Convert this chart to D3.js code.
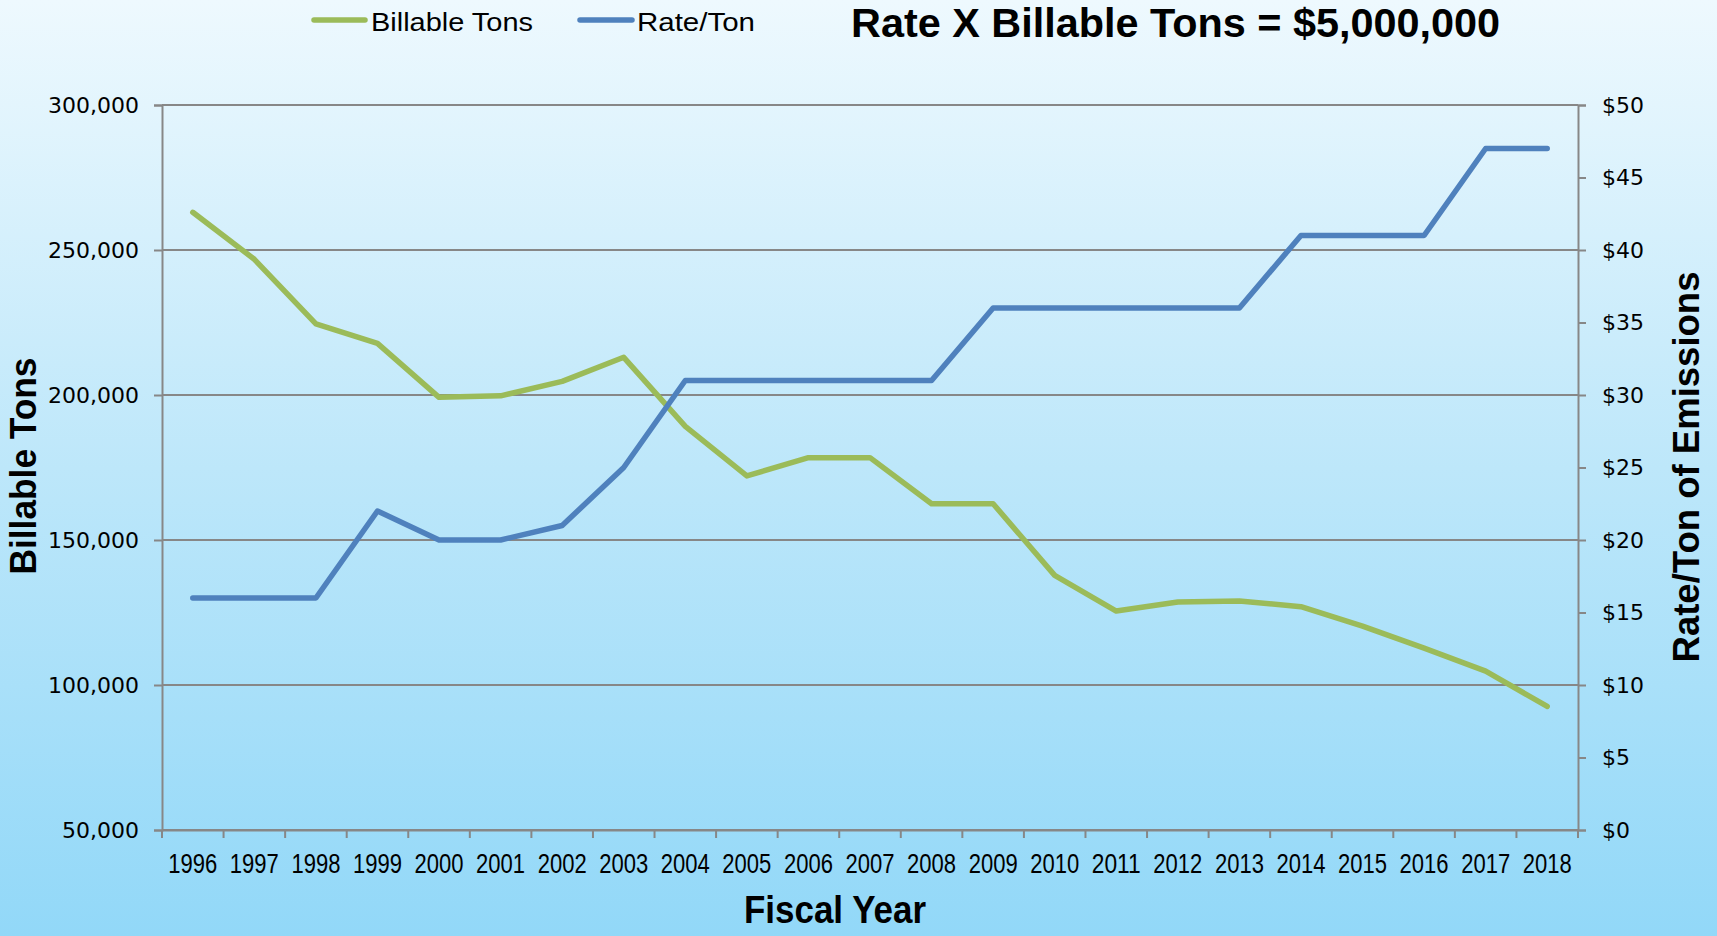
<!DOCTYPE html>
<html><head><meta charset="utf-8">
<script src="https://cdn.jsdelivr.net/npm/d3@7"></script>
<style>html,body{margin:0;padding:0;overflow:hidden;background:#fff;} svg{display:block;}</style>
</head><body>
<svg id="chart" width="1717" height="936"></svg>
<script>
// ---- data ----
const years = ["1996","1997","1998","1999","2000","2001","2002","2003","2004","2005","2006","2007","2008","2009","2010","2011","2012","2013","2014","2015","2016","2017","2018"];
const billableTons = [263000,246800,224500,217800,199200,199700,204700,213000,189200,172100,178400,178400,162500,162500,137800,125500,128600,129000,127000,120300,112700,104800,92600];
const ratePerTon = [16,16,16,22,20,20,21,25,31,31,31,31,31,36,36,36,36,36,41,41,41,47,47];
const leftTicks = [50000,100000,150000,200000,250000,300000];
const rightTicks = [0,5,10,15,20,25,30,35,40,45,50];
const seriesNames = ["Billable Tons","Rate/Ton"];
const seriesColors = ["#9BBB59","#4F81BD"];
const titleText = "Rate X Billable Tons = $5,000,000";
const xTitle = "Fiscal Year";
const yLeftTitle = "Billable Tons";
const yRightTitle = "Rate/Ton of Emissions";

// ---- layout ----
const W = 1717, H = 936;
const plot = {left:162, right:1578, top:105, bottom:830};
const SANS = "'Liberation Sans', Arial, sans-serif";
const NARROW = "'Liberation Sans Narrow', 'Arial Narrow', 'Liberation Sans', sans-serif";
const DEJAVU = "'DejaVu Sans', Verdana, sans-serif";
const GRID = "#878787";

const svg = d3.select("#chart");
const defs = svg.append("defs");
const grad = defs.append("linearGradient").attr("id","bg").attr("x1",0).attr("y1",0).attr("x2",0).attr("y2",1);
grad.append("stop").attr("offset","0%").attr("stop-color","#eef9fe");
grad.append("stop").attr("offset","50%").attr("stop-color","#bde7fa");
grad.append("stop").attr("offset","100%").attr("stop-color","#92d8f8");
svg.append("rect").attr("width",W).attr("height",H).attr("fill","url(#bg)");

const x = d3.scaleBand().domain(years).range([plot.left, plot.right]).padding(0);
const yL = d3.scaleLinear().domain([50000,300000]).range([plot.bottom, plot.top]);
const yR = d3.scaleLinear().domain([0,50]).range([plot.bottom, plot.top]);

// gridlines
svg.append("g").selectAll("line").data(leftTicks).join("line")
  .attr("x1",plot.left).attr("x2",plot.right)
  .attr("y1",d=>yL(d)).attr("y2",d=>yL(d))
  .attr("stroke",GRID).attr("stroke-width",2);

// left axis
const gL = svg.append("g").attr("transform",`translate(${plot.left},0)`)
  .call(d3.axisLeft(yL).tickValues(leftTicks).tickSize(8).tickPadding(15).tickFormat(d3.format(",")));
gL.select(".domain").attr("stroke",GRID).attr("stroke-width",2);
gL.selectAll(".tick line").attr("stroke",GRID).attr("stroke-width",2);
gL.selectAll("text").attr("font-family",DEJAVU).attr("font-size",22).attr("fill","#000");

// right axis
const gR = svg.append("g").attr("transform",`translate(${plot.right},0)`)
  .call(d3.axisRight(yR).tickValues(rightTicks).tickSize(8).tickPadding(16).tickFormat(d=>"$"+d));
gR.select(".domain").attr("stroke",GRID).attr("stroke-width",2);
gR.selectAll(".tick line").attr("stroke",GRID).attr("stroke-width",2);
gR.selectAll("text").attr("font-family",DEJAVU).attr("font-size",22).attr("fill","#000");

// bottom axis
const gB = svg.append("g").attr("transform",`translate(0,${plot.bottom})`)
  .call(d3.axisBottom(x).tickSize(0).tickPadding(0));
gB.select(".domain").attr("stroke",GRID).attr("stroke-width",2);
gB.selectAll("text").attr("y",43).attr("dy",null)
  .attr("font-family",NARROW).attr("font-size",28).attr("fill","#000")
  .attr("textLength",49).attr("lengthAdjust","spacingAndGlyphs");
// category boundary tick marks
const bounds = years.map(d=>x(d)).concat([x(years[years.length-1]) + x.bandwidth()]);
gB.append("g").selectAll("line").data(bounds).join("line")
  .attr("x1",d=>d).attr("x2",d=>d).attr("y1",0).attr("y2",8)
  .attr("stroke",GRID).attr("stroke-width",2);

// lines
const cx = d => x(d) + x.bandwidth()/2;
const lineL = d3.line().x((d,i)=>cx(years[i])).y(d=>yL(d));
const lineR = d3.line().x((d,i)=>cx(years[i])).y(d=>yR(d));
svg.append("path").datum(billableTons).attr("d",lineL)
  .attr("fill","none").attr("stroke",seriesColors[0]).attr("stroke-width",5.5)
  .attr("stroke-linejoin","round").attr("stroke-linecap","round");
svg.append("path").datum(ratePerTon).attr("d",lineR)
  .attr("fill","none").attr("stroke",seriesColors[1]).attr("stroke-width",5.5)
  .attr("stroke-linejoin","round").attr("stroke-linecap","round");

// legend
const legendItems = [
  {name:seriesNames[0], color:seriesColors[0], x1:314, x2:365, tx:371, len:162},
  {name:seriesNames[1], color:seriesColors[1], x1:580, x2:632, tx:637, len:118}
];
const lg = svg.append("g");
legendItems.forEach(it=>{
  lg.append("line").attr("x1",it.x1).attr("x2",it.x2).attr("y1",20).attr("y2",20)
    .attr("stroke",it.color).attr("stroke-width",5.5).attr("stroke-linecap","round");
  lg.append("text").attr("x",it.tx).attr("y",30.5).text(it.name)
    .attr("font-family",SANS).attr("font-size",26).attr("fill","#000")
    .attr("textLength",it.len).attr("lengthAdjust","spacingAndGlyphs");
});

// title
svg.append("text").attr("x",851).attr("y",37).text(titleText)
  .attr("font-family",SANS).attr("font-weight","bold").attr("font-size",41).attr("fill","#000")
  .attr("textLength",649).attr("lengthAdjust","spacingAndGlyphs");

// axis titles
svg.append("text").attr("x",835).attr("y",923).attr("text-anchor","middle").text(xTitle)
  .attr("font-family",SANS).attr("font-weight","bold").attr("font-size",39).attr("fill","#000")
  .attr("textLength",182).attr("lengthAdjust","spacingAndGlyphs");
svg.append("text").attr("transform","translate(36,466) rotate(-90)").attr("text-anchor","middle").text(yLeftTitle)
  .attr("font-family",SANS).attr("font-weight","bold").attr("font-size",37).attr("fill","#000")
  .attr("textLength",217).attr("lengthAdjust","spacingAndGlyphs");
svg.append("text").attr("transform","translate(1699,467) rotate(-90)").attr("text-anchor","middle").text(yRightTitle)
  .attr("font-family",SANS).attr("font-weight","bold").attr("font-size",37).attr("fill","#000")
  .attr("textLength",391).attr("lengthAdjust","spacingAndGlyphs");
</script>
</body></html>
